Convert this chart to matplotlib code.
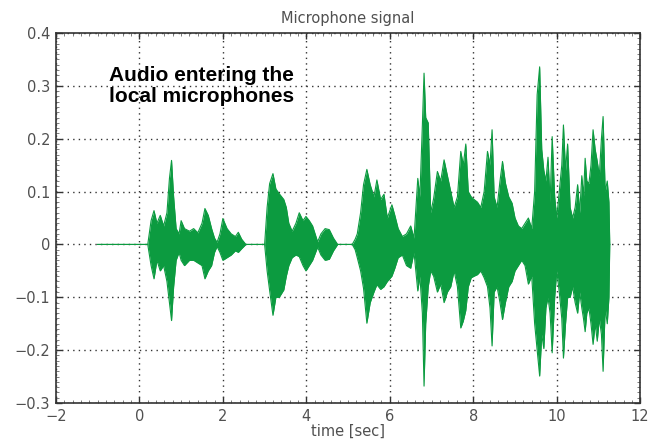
import matplotlib
matplotlib.use("Agg")
import matplotlib.pyplot as plt
from matplotlib.ticker import MultipleLocator

# Envelope of the microphone signal (time [s], upper, lower)
time_s = [-1.0, 0.20, 0.28, 0.35, 0.42, 0.50, 0.58, 0.66, 0.72, 0.77, 0.82, 0.88, 0.95,
          1.00, 1.08, 1.20, 1.30, 1.40, 1.50, 1.57, 1.65, 1.73, 1.80, 1.86, 1.93, 2.00,
          2.10, 2.20, 2.30, 2.37, 2.45, 2.55, 3.00, 3.06, 3.12, 3.20, 3.27, 3.35, 3.46,
          3.52, 3.58, 3.66, 3.75, 3.83, 3.92, 3.99, 4.07, 4.15, 4.27, 4.35, 4.45, 4.55,
          4.65, 4.75, 5.10, 5.17, 5.22, 5.30, 5.37, 5.45, 5.53, 5.62, 5.69, 5.78, 5.86,
          5.94, 6.05, 6.12, 6.20, 6.30, 6.40, 6.50, 6.58, 6.67, 6.72, 6.78, 6.82, 6.86,
          6.92, 6.98, 7.05, 7.14, 7.22, 7.30, 7.38, 7.46, 7.54, 7.62, 7.70, 7.76, 7.82,
          7.88, 7.95, 8.02, 8.10, 8.18, 8.26, 8.34, 8.40, 8.45, 8.50, 8.57, 8.64, 8.70,
          8.77, 8.85, 8.93, 9.00, 9.08, 9.16, 9.24, 9.32, 9.40, 9.47, 9.53, 9.59, 9.64,
          9.69, 9.74, 9.79, 9.84, 9.89, 9.95, 10.00, 10.06, 10.12, 10.16, 10.21, 10.26,
          10.32, 10.38, 10.44, 10.50, 10.55, 10.60, 10.64, 10.68, 10.72, 10.77, 10.82,
          10.87, 10.92, 10.97, 11.02, 11.07, 11.11, 11.16, 11.21, 11.25, 11.27]
upper = [0.0, 0.0, 0.045, 0.064, 0.040, 0.055, 0.035, 0.060, 0.125, 0.159, 0.090, 0.030, 0.020,
         0.045, 0.030, 0.025, 0.030, 0.022, 0.040, 0.068, 0.055, 0.030, 0.012, 0.004, 0.020, 0.049,
         0.030, 0.020, 0.015, 0.023, 0.010, 0.0, 0.0, 0.070, 0.115, 0.134, 0.105, 0.096, 0.085,
         0.070, 0.040, 0.025, 0.040, 0.060, 0.045, 0.053, 0.045, 0.035, 0.005, 0.020, 0.030, 0.028,
         0.012, 0.0, 0.0, 0.010, 0.020, 0.060, 0.113, 0.142, 0.113, 0.090, 0.122, 0.085, 0.095,
         0.050, 0.075, 0.055, 0.030, 0.015, 0.020, 0.035, 0.012, 0.125, 0.090, 0.226, 0.324, 0.240,
         0.230, 0.060, 0.087, 0.138, 0.120, 0.160, 0.130, 0.100, 0.070, 0.090, 0.176, 0.150, 0.190,
         0.100, 0.090, 0.085, 0.080, 0.070, 0.100, 0.176, 0.150, 0.217, 0.090, 0.070, 0.120, 0.157,
         0.116, 0.090, 0.078, 0.050, 0.035, 0.030, 0.040, 0.050, 0.030, 0.100, 0.283, 0.336, 0.180,
         0.140, 0.120, 0.165, 0.080, 0.204, 0.090, 0.050, 0.100, 0.150, 0.226, 0.140, 0.190,
         0.070, 0.050, 0.070, 0.113, 0.060, 0.130, 0.090, 0.163, 0.120, 0.115, 0.150,
         0.217, 0.180, 0.157, 0.130, 0.200, 0.242, 0.100, 0.120, 0.080, 0.0]
lower = [0.0, 0.0, -0.040, -0.065, -0.030, -0.050, -0.040, -0.070, -0.110, -0.144, -0.080, -0.030, -0.015,
         -0.030, -0.040, -0.030, -0.030, -0.035, -0.040, -0.065, -0.050, -0.040, -0.015, -0.004, -0.015, -0.030,
         -0.025, -0.020, -0.012, -0.015, -0.008, 0.0, 0.0, -0.050, -0.087, -0.134, -0.100, -0.100, -0.086,
         -0.060, -0.040, -0.025, -0.020, -0.023, -0.040, -0.050, -0.040, -0.030, -0.005, -0.020, -0.030, -0.028,
         -0.012, 0.0, 0.0, -0.010, -0.025, -0.050, -0.083, -0.149, -0.110, -0.090, -0.076, -0.085, -0.080,
         -0.070, -0.060, -0.045, -0.025, -0.020, -0.040, -0.045, -0.015, -0.088, -0.060, -0.130, -0.268, -0.150,
         -0.080, -0.050, -0.060, -0.090, -0.075, -0.110, -0.090, -0.080, -0.050, -0.080, -0.158, -0.145, -0.125,
         -0.080, -0.063, -0.060, -0.057, -0.050, -0.063, -0.080, -0.120, -0.192, -0.090, -0.080, -0.110, -0.142,
         -0.110, -0.080, -0.070, -0.050, -0.040, -0.030, -0.040, -0.075, -0.060, -0.150, -0.200, -0.249, -0.170,
         -0.197, -0.120, -0.100, -0.130, -0.205, -0.100, -0.050, -0.090, -0.140, -0.215, -0.150, -0.100,
         -0.100, -0.080, -0.110, -0.130, -0.090, -0.120, -0.140, -0.165, -0.130, -0.120, -0.150,
         -0.189, -0.150, -0.183, -0.140, -0.170, -0.240, -0.120, -0.150, -0.100, 0.0]

x_ticks = [-2, 0, 2, 4, 6, 8, 10, 12]
y_ticks = [-0.3, -0.2, -0.1, 0, 0.1, 0.2, 0.3, 0.4]
y_tick_labels = ["\u22120.3", "\u22120.2", "\u22120.1", "0", "0.1", "0.2", "0.3", "0.4"]
x_tick_labels = ["\u22122", "0", "2", "4", "6", "8", "10", "12"]

GREEN = "#0c9b40"
GRAY = "#505050"

plt.rcParams['font.family'] = ['DejaVu Sans']

fig = plt.figure(figsize=(6.58, 4.40), dpi=100)
ax = fig.add_axes([0.085, 0.084, 0.888, 0.841])

ax.fill_between(time_s, lower, upper, color=GREEN, linewidth=0)
ax.plot(time_s, upper, color=GREEN, linewidth=0.8)
ax.plot(time_s, lower, color=GREEN, linewidth=0.8)

ax.set_xlim(-2, 12)
ax.set_ylim(-0.3, 0.4)
ax.set_xticks(x_ticks)
ax.set_xticklabels(x_tick_labels)
ax.set_yticks(y_ticks)
ax.set_yticklabels(y_tick_labels)
ax.xaxis.set_minor_locator(MultipleLocator(0.2))
ax.yaxis.set_minor_locator(MultipleLocator(0.01))

ax.grid(True, which='major', linestyle=(0, (1, 3)), color='#333333', linewidth=1.0)
ax.set_axisbelow(True)
ax.tick_params(which='major', direction='in', length=4, width=1, colors='#333333',
               labelcolor=GRAY, labelsize=10.5, top=True, right=True, pad=4)
ax.tick_params(which='minor', direction='in', length=2, width=0.6, colors='#666666',
               top=True, right=True)
for s in ax.spines.values():
    s.set_linewidth(1.2)
    s.set_color('#333333')

ax.set_title("Microphone signal", color=GRAY, fontsize=10.5, pad=7)
ax.set_xlabel("time [sec]", color=GRAY, fontsize=10.5, labelpad=0)

ax.text(-0.72, 0.338, "Audio entering the\nlocal microphones", fontsize=15,
        family=['Liberation Sans', 'DejaVu Sans'],
        fontweight='bold', color='black', ha='left', va='top', linespacing=1.18)

fig.savefig("out.png", dpi=100)
